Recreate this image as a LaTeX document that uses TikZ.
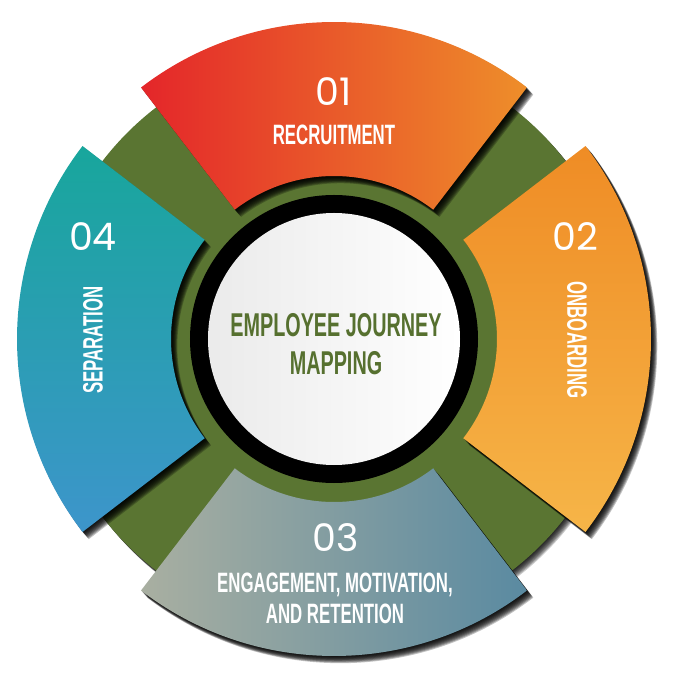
\documentclass[tikz,border=0pt]{standalone}
\usepackage{fontspec}
\setmainfont{Liberation Sans}
\newfontfamily\numfont{Poppins}
\usetikzlibrary{calc}
\definecolor{ringgreen}{HTML}{5A7532}
\definecolor{txtgreen}{HTML}{56702F}
\definecolor{redA}{HTML}{E4262A}
\definecolor{orangeA}{HTML}{EE8E2A}
\definecolor{orangeB}{HTML}{EF8C25}
\definecolor{orangeC}{HTML}{F6B548}
\definecolor{grayA}{HTML}{A9AFA1}
\definecolor{blueA}{HTML}{5A8AA1}
\definecolor{tealA}{HTML}{18A69C}
\definecolor{blueB}{HTML}{3D95CB}
\newcommand\cnd[1]{\scalebox{0.6}[1]{#1}}
\newcommand\seg[1]{(#1-37.5:317) arc[start angle=#1-37.5,end angle=#1+37.5,radius=317] -- (#1+37.5:163) arc[start angle=#1+37.5,end angle=#1-37.5,radius=163] -- cycle}
\tikzset{
  numtxt/.style={text=white,font=\numfont\fontsize{38}{40}\selectfont,inner sep=0pt},
  lbltxt/.style={text=white,font=\bfseries\fontsize{28}{31}\selectfont,inner sep=0pt,align=center},
  ctrtxt/.style={text=txtgreen,font=\bfseries\fontsize{33}{38}\selectfont,inner sep=0pt,align=center},
}
\begin{document}
\begin{tikzpicture}[x=1pt,y=1pt]
\useasboundingbox (-334,-351) rectangle (345,339);
% green disk with shadow
\foreach \k in {1,...,8}{
  \fill[black,opacity=0.2,shift={(0.7*\k,-0.8*\k)}] (0,0) circle[radius=292];
}
\fill[ringgreen] (0,0) circle[radius=292];
% segment shadows
\foreach \a in {90,0,-90,180}{
  \foreach \k in {1,...,9}{
    \fill[black,opacity=0.24,shift={(0.7*\k,-0.8*\k)}] \seg{\a};
  }
}
% segments
\shade[left color=redA,right color=orangeA] \seg{90};
\shade[top color=orangeB,bottom color=orangeC] \seg{0};
\shade[left color=grayA,right color=blueA] \seg{-90};
\shade[top color=tealA,bottom color=blueB] \seg{180};
% black ring and white disc
\fill[black] (0,0) circle[radius=144];
\shade[shading angle=135,left color=gray!16,right color=white] (0,0) circle[radius=126];
% texts
\node[numtxt] (n1) at (0,247) {01};
\node[lbltxt] (l1) at (0,204) {\cnd{RECRUITMENT}};
\node[numtxt] (n2) at (241,102) {02};
\node[lbltxt,rotate=-90] (l2) at (243,-1) {\cnd{ONBOARDING}};
\node[numtxt] (n3) at (2,-199) {03};
\node[lbltxt] (l3) at (1,-259) {\cnd{ENGAGEMENT, MOTIVATION,}\\\cnd{AND RETENTION}};
\node[numtxt] (n4) at (-241,102) {04};
\node[lbltxt,rotate=90] (l4) at (-241,-1) {\cnd{SEPARATION}};
\node[ctrtxt] (c) at (2,-5) {\cnd{EMPLOYEE JOURNEY}\\\cnd{MAPPING}};
\end{tikzpicture}
\end{document}
